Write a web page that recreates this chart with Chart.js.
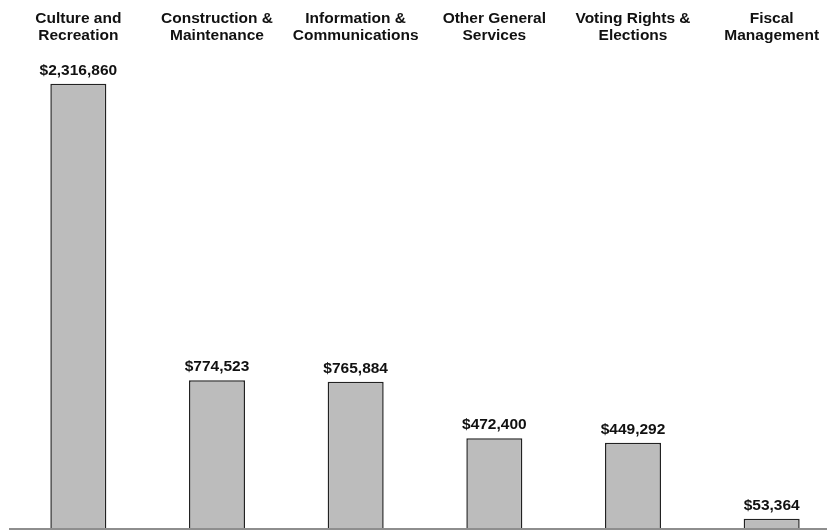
<!DOCTYPE html>
<html>
<head>
<meta charset="utf-8">
<script src="https://cdn.jsdelivr.net/npm/chart.js@4/dist/chart.umd.min.js"></script>
<style>
  html, body { margin: 0; padding: 0; background: #ffffff; overflow: hidden; }
  #wrap { position: relative; width: 850px; height: 531px; }
</style>
</head>
<body>
<div id="wrap"><canvas id="chart" width="850" height="531"></canvas></div>
<script>
// Spending by service area
const categories = [
  ['Culture and', 'Recreation'],
  ['Construction &', 'Maintenance'],
  ['Information &', 'Communications'],
  ['Other General', 'Services'],
  ['Voting Rights &', 'Elections'],
  ['Fiscal', 'Management']
];
const amounts = [2316860, 774523, 765884, 472400, 449292, 53364];

const FONT = '"Liberation Sans", Arial, sans-serif';

// Dollar amount written above each bar
const valueLabels = {
  id: 'valueLabels',
  afterDatasetsDraw(chart) {
    const ctx = chart.ctx;
    const meta = chart.getDatasetMeta(0);
    ctx.save();
    ctx.font = 'bold 15.5px ' + FONT;
    ctx.fillStyle = '#111111';
    ctx.textAlign = 'center';
    ctx.textBaseline = 'alphabetic';
    meta.data.forEach((bar, i) => {
      const v = chart.data.datasets[0].data[i];
      ctx.fillText('$' + v.toLocaleString('en-US'), bar.x, bar.y - 9);
    });
    ctx.restore();
  }
};

new Chart(document.getElementById('chart'), {
  type: 'bar',
  data: {
    labels: categories,
    datasets: [{
      data: amounts,
      backgroundColor: '#bcbcbc',
      borderColor: '#222222',
      borderWidth: 1.5,
      barPercentage: 0.404,
      categoryPercentage: 1
    }]
  },
  options: {
    responsive: false,
    animation: false,
    layout: { padding: { left: 9, right: 9, top: 6, bottom: 2 } },
    plugins: { legend: { display: false }, tooltip: { enabled: false } },
    scales: {
      x: {
        position: 'top',
        grid: { display: false, drawTicks: false },
        border: { display: false },
        ticks: {
          color: '#111111',
          font: { family: FONT, size: 15.5, weight: 'bold', lineHeight: 1.1 },
          padding: 4,
          maxRotation: 0,
          autoSkip: false
        }
      },
      y: {
        min: 0,
        max: 2503000,
        ticks: { display: false },
        border: { display: false },
        grid: {
          drawTicks: false,
          lineWidth: 2,
          color: (c) => (c.tick && c.tick.value === 0 ? '#8e8e8e' : 'rgba(0,0,0,0)')
        }
      }
    }
  },
  plugins: [valueLabels]
});
</script>
</body>
</html>
